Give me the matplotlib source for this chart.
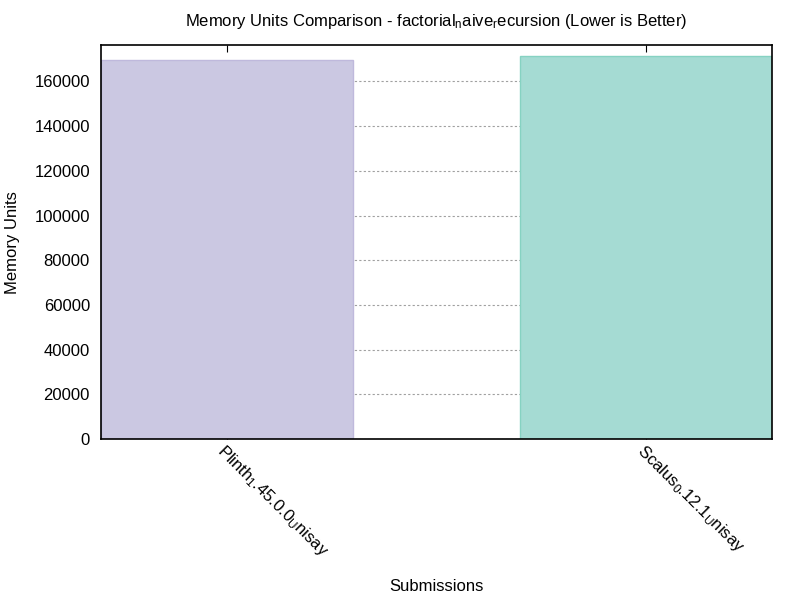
import matplotlib.pyplot as plt

plt.rcParams["font.family"] = ["Liberation Sans", "DejaVu Sans"]
plt.rcParams["mathtext.fontset"] = "custom"
plt.rcParams["mathtext.rm"] = "Liberation Sans"
plt.rcParams["mathtext.it"] = "Liberation Sans"

submissions = [r"Plinth$_{1}$.45.0.0$_{\mathrm{U}}$nisay",
               r"Scalus$_{0}$.12.1$_{\mathrm{U}}$nisay"]
memory_units = [169600, 171400]
fill_colors = ["#cbc8e2", "#a5dbd3"]
edge_colors = ["#bfb9dc", "#86d2c2"]

fig = plt.figure(figsize=(8, 6), dpi=100)
ax = fig.add_axes([0.12625, 0.268, 0.83875, 0.657])

x = list(range(len(submissions)))
ax.bar(x, memory_units, width=0.6, color=fill_colors, edgecolor=edge_colors,
       linewidth=1, zorder=2)

ax.set_xlim(-0.3, 1.3)
ax.set_ylim(0, 176300)
ax.set_yticks(range(0, 160001, 20000))
ax.yaxis.grid(True, linestyle=(0, (2, 2)), color="#a0a0a0", linewidth=0.8, zorder=1)
ax.set_axisbelow(True)

ax.set_xticks(x)
ax.set_xticklabels(submissions, rotation=-45, ha="left", va="top",
                   rotation_mode="anchor", fontsize=12)
ax.tick_params(axis="x", direction="in", length=5, top=True, pad=2)
ax.tick_params(axis="y", length=0, labelsize=12, pad=8)
for s in ax.spines.values():
    s.set_linewidth(1.2)
    s.set_zorder(3)

ax.set_title("Memory Units Comparison - factorial$_{\\mathrm{n}}$aive$_{\\mathrm{r}}$ecursion (Lower is Better)",
             fontsize=12, pad=14)
ax.set_ylabel("Memory Units", fontsize=12, labelpad=10)
fig.text(0.545, 0.023, "Submissions", fontsize=12, ha="center", va="center")

fig.savefig("out.png", dpi=100)
